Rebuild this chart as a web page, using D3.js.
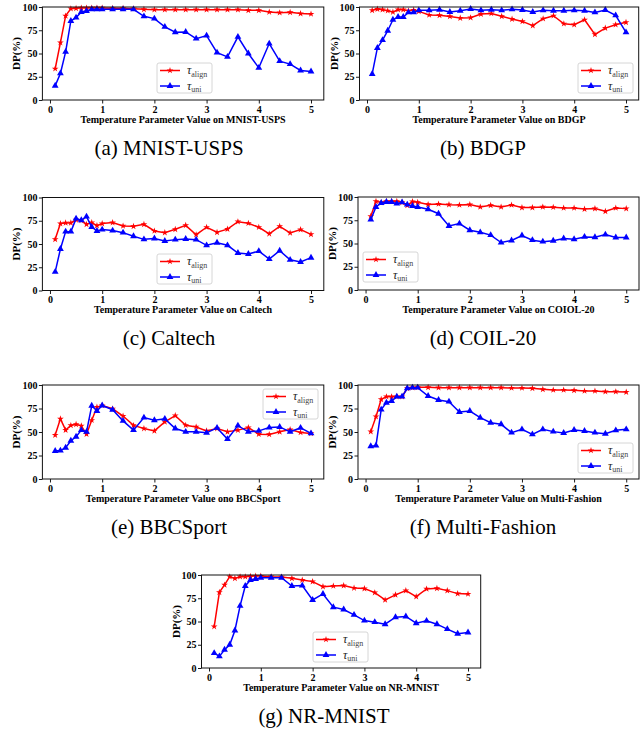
<!DOCTYPE html>
<html>
<head>
<meta charset="utf-8">
<script src="https://d3js.org/d3.v7.min.js"></script>
<style>
  body { margin: 0; background: #fff; }
  svg text { font-family: "Liberation Serif", "Times New Roman", serif; }
  .tick text { font-weight: bold; font-size: 10px; fill: #000; }
  .xlabel { font-weight: bold; font-size: 10px; }
  .ylabel { font-weight: bold; font-size: 11px; }
  .caption { font-size: 21px; }
  .legtau { font-style: italic; font-size: 12px; fill: #222; }
  .legsub { font-size: 8px; fill: #444; }
</style>
</head>
<body>
<div id="chart"></div>
<script>

// temperature values on the x axis (0.1 steps up to 1, then 0.2 steps)
var temps = [0.1, 0.2, 0.3, 0.4, 0.5, 0.6, 0.7, 0.8, 0.9, 1.0,
             1.2, 1.4, 1.6, 1.8, 2.0, 2.2, 2.4, 2.6, 2.8, 3.0,
             3.2, 3.4, 3.6, 3.8, 4.0, 4.2, 4.4, 4.6, 4.8, 5.0];
var yTicks = [0, 25, 50, 75, 100];
var xTicks = [0, 1, 2, 3, 4, 5];
var seriesNames = ["align", "uni"];

var mnistUspsAlign = [33.6, 61.8, 90.4, 98.2, 98.6, 99, 99, 99, 99, 99,
                      98.6, 98.6, 98.2, 97.5, 97.1, 97.1, 97.1, 97.1, 97.1, 97.1,
                      97.1, 97.1, 97.1, 96.4, 96.4, 94.6, 93.9, 94.3, 92.9, 92.5];
var mnistUspsUni = [15.4, 28.6, 51.8, 85, 88.6, 94.6, 95.7, 97.5, 97.5, 97.5,
                    97.5, 97.5, 97.5, 90, 87.5, 78.6, 72.9, 73.2, 66, 69.3,
                    51, 46.4, 67.9, 50, 34.6, 60.7, 41.8, 38.6, 31.8, 30.7];

var bdgpAlign = [96.4, 97.8, 97.1, 96, 94.6, 97.1, 97.1, 96, 96.8, 95.3,
                 91.4, 91, 89.9, 88.1, 88.5, 92.4, 93, 90, 87, 84.5,
                 80, 87.4, 90.6, 82, 81, 86.3, 70.5, 77.3, 81, 83.5];
var bdgpUni = [28, 56, 64.4, 74.5, 86.3, 89.2, 89.2, 94.2, 94.2, 96.4,
               96.4, 97, 94.6, 96, 97.8, 96.4, 97, 96.4, 97.5, 96.8,
               94.6, 96.4, 96, 96, 96.4, 96, 94.2, 96.8, 91, 72.7];

var caltechAlign = [55, 72, 72.7, 72.7, 76, 75.5, 71.2, 73, 69.8, 72,
                    73, 69.4, 69, 71.2, 64, 62.2, 65.8, 70, 60, 68,
                    62.6, 66, 74, 72.3, 68, 61, 69, 61.9, 65.5, 60.4];
var caltechUni = [20, 44.6, 63.3, 63.3, 77.3, 75.5, 79.5, 68.3, 64, 65.5,
                  64.4, 62.2, 58.3, 55, 56, 53.2, 54.7, 55.4, 54.7, 48.6,
                  51.4, 48.6, 40.3, 39.2, 42.4, 33.8, 42.8, 33, 30.6, 35.3];

var coilAlign = [79.3, 95.4, 94, 95.4, 95.4, 95.4, 94.3, 91, 95, 94.3,
                 92, 92.5, 91.8, 91.4, 91.8, 89.3, 91, 89.3, 91.4, 88.6,
                 88.6, 89.3, 89, 88.2, 88.2, 87, 87.5, 84.6, 88.2, 87.5];
var coilUni = [75.7, 89.3, 93.6, 94.6, 94.6, 92.9, 94.3, 91.8, 90.4, 89.3,
               86.8, 82, 68.9, 71.4, 64.3, 62, 59, 51, 53.2, 58.6,
               53.6, 52, 53, 55.4, 54.6, 57.1, 56.8, 59.6, 56.4, 56.4];

var bbcAlign = [46.7, 64, 52, 57, 58.2, 56.5, 47.7, 62.5, 76.5, 78.2,
                74.7, 67, 57, 53.7, 51.2, 60.7, 67.4, 57.2, 55.4, 51.2,
                53.7, 50.2, 52, 54.7, 47.7, 47.4, 50.2, 52.6, 49.5, 48.5];
var bbcUni = [29.8, 30.2, 33.3, 40.7, 44.9, 52, 50.2, 77.9, 72.3, 78.2,
              73.7, 61.8, 52, 65.3, 62.5, 64, 53.7, 50.2, 50.2, 49.1,
              54.4, 42.5, 56.8, 50.2, 51.2, 54.7, 55.4, 50.2, 54.4, 48.5];

var fashionAlign = [50.4, 66.3, 84.8, 87.6, 87.6, 87.6, 87.6, 96.5, 97.2, 97.5,
                    97.5, 97.2, 97.2, 97.2, 97.2, 97.2, 97.2, 97.2, 96.8, 96.8,
                    96.5, 95.4, 94.7, 94.7, 94.3, 93.6, 93.6, 92.9, 92.9, 92.5];
var fashionUni = [34.8, 35.5, 73.8, 81.2, 83, 87.6, 87.6, 96.5, 97.2, 97.2,
                  88.3, 84, 82.3, 71.3, 72.3, 65.2, 59.9, 58.2, 49.3, 52.8,
                  47.5, 52.8, 50.4, 48.9, 52.1, 51.1, 49.3, 48.2, 51.8, 52.8];

var nrMnistAlign = [44.6, 81.4, 89.3, 98.2, 96.4, 98.2, 98.2, 98.6, 98.9, 98.9,
                    98.2, 97.9, 96.4, 94.6, 92.9, 87.5, 88.2, 88.6, 86, 85.4,
                    81, 73.2, 78.6, 83.2, 76.8, 85, 85.7, 83.2, 80, 79.6];
var nrMnistUni = [16, 12.5, 19.6, 25, 40.4, 66.8, 88.2, 94.6, 95.7, 97.1,
                  97.1, 97.1, 88.2, 88.6, 73.2, 79.6, 65.4, 62.9, 57.1, 51,
                  49.3, 47.1, 54.6, 55.4, 48.2, 50.7, 47.1, 41.8, 36.8, 38.2];

// layout of the seven subplots
var panels = [
    {align: mnistUspsAlign, uni: mnistUspsUni, xlabel: "Temperature Parameter Value on MNIST-USPS",
     caption: "(a) MNIST-USPS", left: 42.4, top: 7, width: 281.4, height: 93, legend: [157, 63], capX: 169, capY: 155},
    {align: bdgpAlign, uni: bdgpUni, xlabel: "Temperature Parameter Value on BDGP",
     caption: "(b) BDGP", left: 359.5, top: 7, width: 279.2, height: 93, legend: [578, 63], capX: 483, capY: 155},
    {align: caltechAlign, uni: caltechUni, xlabel: "Temperature Parameter Value on Caltech",
     caption: "(c) Caltech", left: 42.4, top: 197.5, width: 281.4, height: 93, legend: [157, 254], capX: 169, capY: 345},
    {align: coilAlign, uni: coilUni, xlabel: "Temperature Parameter Value on COIOL-20",
     caption: "(d) COIL-20", left: 358, top: 197, width: 281, height: 93, legend: [363, 252], capX: 483, capY: 345},
    {align: bbcAlign, uni: bbcUni, xlabel: "Temperature Parameter Value ono BBCSport",
     caption: "(e) BBCSport", left: 42.4, top: 385, width: 281.4, height: 94, legend: [263, 389], capX: 169, capY: 534},
    {align: fashionAlign, uni: fashionUni, xlabel: "Temperature Parameter Value on Multi-Fashion",
     caption: "(f) Multi-Fashion", left: 358, top: 385, width: 281, height: 94, legend: [578, 443], capX: 483, capY: 534},
    {align: nrMnistAlign, uni: nrMnistUni, xlabel: "Temperature Parameter Value on NR-MNIST",
     caption: "(g) NR-MNIST", left: 201.5, top: 575, width: 279.2, height: 93, legend: [313, 632], capX: 324, capY: 723}
];

var colors = {align: "#ff0000", uni: "#0000ff"};
var symbols = {align: d3.symbol().type(d3.symbolStar).size(14),
               uni: d3.symbol().type(d3.symbolTriangle).size(20)};

var svg = d3.select("#chart").append("svg")
            .attr("width", 643)
            .attr("height", 729);

function drawPanel(p) {
    var x = d3.scaleLinear().domain([-0.145, 5.245]).range([p.left, p.left + p.width]);
    var y = d3.scaleLinear().domain([0, 100]).range([p.top + p.height, p.top]);
    var g = svg.append("g");

    var xAxis = g.append("g")
        .attr("transform", "translate(0," + (p.top + p.height) + ")")
        .call(d3.axisBottom(x).tickValues(xTicks).tickSize(3.5).tickPadding(2).tickFormat(d3.format("d")));
    var yAxis = g.append("g")
        .attr("transform", "translate(" + p.left + ",0)")
        .call(d3.axisLeft(y).tickValues(yTicks).tickSize(3.5).tickPadding(1.5));
    [xAxis, yAxis].forEach(function(a) {
        a.select(".domain").remove();
        a.selectAll(".tick line").attr("stroke", "#000").attr("stroke-width", 0.9);
        a.selectAll(".tick text").attr("font-family", null).attr("font-size", null);
    });

    var line = d3.line()
        .x(function(d, i) { return x(temps[i]); })
        .y(function(d) { return y(d); });

    seriesNames.forEach(function(name) {
        var vals = p[name];
        g.append("path")
         .datum(vals)
         .attr("d", line)
         .attr("fill", "none")
         .attr("stroke", colors[name])
         .attr("stroke-width", 1.5);
        g.selectAll(".m-" + name).data(vals).enter()
         .append("path")
         .attr("class", "m-" + name)
         .attr("d", symbols[name])
         .attr("transform", function(d, i) { return "translate(" + x(temps[i]) + "," + y(d) + ")"; })
         .attr("fill", colors[name]);
    });

    // frame
    g.append("rect")
     .attr("x", p.left).attr("y", p.top)
     .attr("width", p.width).attr("height", p.height)
     .attr("fill", "none").attr("stroke", "#111").attr("stroke-width", 1);

    g.append("text")
     .attr("class", "xlabel")
     .attr("x", p.left + p.width / 2)
     .attr("y", p.top + p.height + 22.5)
     .attr("text-anchor", "middle")
     .text(p.xlabel);

    g.append("text")
     .attr("class", "ylabel")
     .attr("transform", "translate(" + (p.left - 22) + "," + (p.top + p.height / 2) + ") rotate(-90)")
     .attr("text-anchor", "middle")
     .text("DP(%)");

    g.append("text")
     .attr("class", "caption")
     .attr("x", p.capX)
     .attr("y", p.capY)
     .attr("text-anchor", "middle")
     .text(p.caption);

    // legend
    var lx = p.legend[0], ly = p.legend[1];
    var leg = g.append("g").attr("transform", "translate(" + lx + "," + ly + ")");
    leg.append("rect")
       .attr("width", 55).attr("height", 30).attr("rx", 2)
       .attr("fill", "#fff").attr("fill-opacity", 0.8)
       .attr("stroke", "#cccccc").attr("stroke-width", 0.8);
    seriesNames.forEach(function(name, i) {
        var ry = 7.5 + i * 15.5;
        leg.append("line")
           .attr("x1", 3).attr("x2", 23).attr("y1", ry).attr("y2", ry)
           .attr("stroke", colors[name]).attr("stroke-width", 1.5);
        leg.append("path")
           .attr("d", symbols[name])
           .attr("transform", "translate(13," + ry + ")")
           .attr("fill", colors[name]);
        var t = leg.append("text").attr("x", 30).attr("y", ry + 3.5);
        t.append("tspan").attr("class", "legtau").text("\u03c4");
        t.append("tspan").attr("class", "legsub").attr("dy", 2.5).text(name);
    });
}

panels.forEach(drawPanel);

</script>
</body>
</html>
